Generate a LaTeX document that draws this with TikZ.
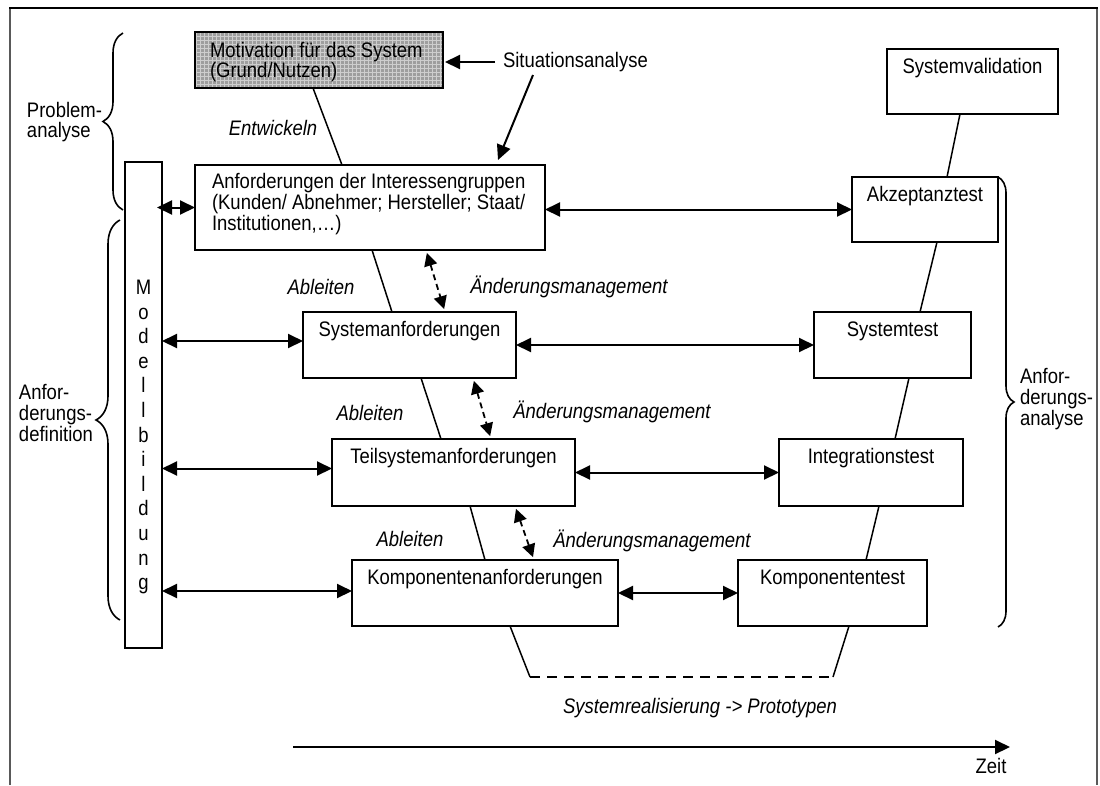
\documentclass[tikz,border=0pt]{standalone}
\usepackage{fontspec}
\setmainfont{Liberation Sans}[FakeStretch=0.88]
\usetikzlibrary{arrows.meta,decorations.pathreplacing}

\begin{document}
\begin{tikzpicture}[x=1pt, y=-1pt,
  every node/.style={inner sep=0pt, outer sep=0pt},
  txt/.style={font=\fontsize{21}{20.6}\selectfont},
  itx/.style={font=\fontsize{21}{20.6}\selectfont\itshape},
  box/.style={draw, line width=2.1pt, anchor=north west, fill=white},
  link/.style={line width=1.5pt},
  arr/.style={line width=2pt, -{Triangle[length=15pt,width=14pt]}},
  dbl/.style={line width=2pt, {Triangle[length=15pt,width=14pt]}-{Triangle[length=15pt,width=14pt]}},
  chg/.style={line width=1.8pt, dash pattern=on 6pt off 4pt,
    {Triangle[length=13pt,width=13pt]}-{Triangle[length=13pt,width=13pt]},
    shorten <=3pt, shorten >=3pt},
  brc/.style={line width=1.6pt, decorate, decoration={brace, amplitude=#1}},
]
\useasboundingbox (0,0) rectangle (1100,785);

% outer frame (open at the bottom)
\draw[line width=1.6pt, gray!70!black] (10,785) -- (10,8);
\draw[line width=1.6pt, gray!70!black] (1097,8) -- (1097,785);
\draw[line width=2.4pt] (9,8) -- (1098,8);

% motivation box with hatched grey fill
\node[box, fill=black!38, minimum width=248pt, minimum height=56pt] (mot) at (195,32) {};
\begin{scope}
  \clip (mot.north west) rectangle (mot.south east);
  \draw[white, opacity=0.5, line width=0.7pt, step=4pt] (mot.north west) grid (mot.south east);
\end{scope}
\draw[line width=2.1pt] (mot.north west) rectangle (mot.south east);
\node[txt, align=left, anchor=west] (mot-t) at (210,62) {Motivation für das System\\(Grund/Nutzen)};

% left branch: requirements
\node[box, minimum width=350pt, minimum height=85pt] (anf) at (195,165) {};
\node[txt, align=left, anchor=west] (anf-t) at (212,204)
  {Anforderungen der Interessengruppen\\(Kunden/ Abnehmer; Hersteller; Staat/\\Institutionen,…)};
\node[box, minimum width=213pt, minimum height=66pt] (sys) at (303,312) {};
\node[txt] (sys-t) at ([yshift=-19pt]sys.north) {Systemanforderungen};
\node[box, minimum width=243pt, minimum height=67pt] (teil) at (332,439) {};
\node[txt] (teil-t) at ([yshift=-19pt]teil.north) {Teilsystemanforderungen};
\node[box, minimum width=266pt, minimum height=66pt] (komp) at (352,560) {};
\node[txt] (komp-t) at ([yshift=-19pt]komp.north) {Komponentenanforderungen};

% right branch: tests
\node[box, minimum width=171pt, minimum height=65pt] (sval) at (887,49) {};
\node[txt] (sval-t) at ([yshift=-19pt]sval.north) {Systemvalidation};
\node[box, minimum width=146pt, minimum height=65pt] (akz) at (852,177) {};
\node[txt] (akz-t) at ([yshift=-19pt]akz.north) {Akzeptanztest};
\node[box, minimum width=157pt, minimum height=66pt] (stest) at (814,312) {};
\node[txt] (stest-t) at ([yshift=-19pt]stest.north) {Systemtest};
\node[box, minimum width=184pt, minimum height=67pt] (itest) at (779,439) {};
\node[txt] (itest-t) at ([yshift=-19pt]itest.north) {Integrationstest};
\node[box, minimum width=189pt, minimum height=66pt] (ktest) at (738,560) {};
\node[txt] (ktest-t) at ([yshift=-19pt]ktest.north) {Komponententest};

% modelling bar
\node[draw, line width=1.6pt, anchor=north west, minimum width=37pt, minimum height=486pt] (bar) at (125,162) {};
\node[align=center, font=\fontsize{21}{24.6}\selectfont] (bar-t) at (143.5,437)
  {M\\o\\d\\e\\l\\l\\b\\i\\l\\d\\u\\n\\g};

% V-model links
\draw[link] ([xshift=118pt]mot.south west) -- ([xshift=147pt]anf.north west);
\draw[link] ([xshift=177pt]anf.south west) -- ([xshift=89pt]sys.north west);
\draw[link] ([xshift=118pt]sys.south west) -- ([xshift=109pt]teil.north west);
\draw[link] ([xshift=138pt]teil.south west) -- ([xshift=133pt]komp.north west);
\coordinate (r0) at (530,677);
\coordinate (r1) at (833,677);
\draw[link] ([xshift=158pt]komp.south west) -- (r0);
\draw[link, dash pattern=on 10pt off 7pt] (r0) -- (r1);
\draw[link] (r1) -- ([xshift=111pt]ktest.south west);
\draw[link] ([xshift=73pt]sval.south west) -- ([xshift=95pt]akz.north west);
\draw[link] ([xshift=85pt]akz.south west) -- ([xshift=106pt]stest.north west);
\draw[link] ([xshift=95pt]stest.south west) -- ([xshift=116pt]itest.north west);
\draw[link] ([xshift=100pt]itest.south west) -- ([xshift=128pt]ktest.north west);

% change management
\draw[chg] ([xshift=231pt]anf.south west) -- ([xshift=142pt]sys.north west);
\draw[chg] ([xshift=170pt]sys.south west) -- ([xshift=159pt]teil.north west);
\draw[chg] ([xshift=183pt]teil.south west) -- ([xshift=182pt]komp.north west);

% requirement <-> test
\draw[dbl] (akz.west -| anf.east) -- (akz.west);
\draw[dbl] (sys.east) -- (stest.west);
\draw[dbl] (teil.east) -- (itest.west);
\draw[dbl] (komp.east) -- (ktest.west);

% modelling <-> requirements
\coordinate (m0) at (anf.west -| bar.east);
\draw[dbl] ([xshift=-5pt]m0) -- (anf.west);
\coordinate (s1) at ([yshift=4pt]sys.west);
\draw[dbl] (s1 -| bar.east) -- (s1);
\coordinate (s2) at ([yshift=4pt]teil.west);
\draw[dbl] (s2 -| bar.east) -- (s2);
\coordinate (s3) at ([yshift=2pt]komp.west);
\draw[dbl] (s3 -| bar.east) -- (s3);

% situation analysis
\node[txt, anchor=west] (sit) at (503,62) {Situationsanalyse};
\draw[arr, shorten >=2pt] ([xshift=-8pt]sit.west) -- (sit.west -| mot.east);
\draw[arr] ([xshift=30pt,yshift=-13pt]sit.west) -- ([xshift=303pt,yshift=5pt]anf.north west);

% italic labels
\node[itx] (ent) at (273,128) {Entwickeln};
\node[itx] (abl1) at (321,287) {Ableiten};
\node[itx] (abl2) at (370,413) {Ableiten};
\node[itx] (abl3) at (410,539) {Ableiten};
\node[itx] (chg1) at (569,287) {Änderungsmanagement};
\node[itx] (chg2) at (612,412) {Änderungsmanagement};
\node[itx] (chg3) at (652,541) {Änderungsmanagement};
\node[itx] (real) at (700,708) {Systemrealisierung -> Prototypen};

% time axis
\coordinate (t0) at (293,747);
\coordinate (t1) at (1010,747);
\draw[arr] (t0) -- (t1);
\node[txt] (zeit) at (991,766) {Zeit};

% phase braces
\draw[brc=20pt] (123,210) -- (123,33);
\draw[brc=24pt] (120,620) -- (120,220);
\draw[brc=16pt] (998,177) -- (998,627);
\node[txt, align=left, anchor=west] (pa) at (27,122) {Problem-\\analyse};
\node[txt, align=left, anchor=west] (ad) at (19,413) {Anfor-\\derungs-\\definition};
\node[txt, align=left, anchor=west] (aa) at (1020,399) {Anfor-\\derungs-\\analyse};
\end{tikzpicture}
\end{document}
